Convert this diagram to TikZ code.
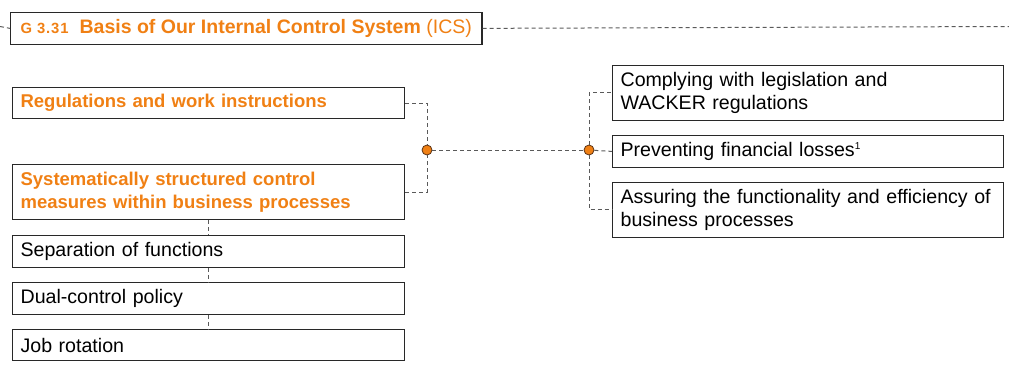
\documentclass[tikz,border=0pt]{standalone}
\usepackage{fontspec}
\setmainfont{Liberation Sans}
\usetikzlibrary{positioning}
\definecolor{icsorange}{RGB}{240,128,20}
\definecolor{boxline}{RGB}{40,40,40}
\definecolor{dashclr}{RGB}{90,90,90}
\definecolor{dotline}{RGB}{90,50,20}
\tikzset{
  % boxes
  ctrlbox/.style  = {draw=boxline, line width=0.6pt, anchor=north west,
                     minimum width=196pt, text width=188pt, inner xsep=4pt,
                     align=left, font=\fontsize{9.8}{11.5}\selectfont},
  headbox/.style  = {ctrlbox, text=icsorange, font=\fontsize{9.25}{11.5}\selectfont\bfseries},
  goalbox/.style  = {ctrlbox, minimum width=195.5pt, text width=187.5pt},
  titlebox/.style = {draw=boxline, line width=0.6pt, anchor=north west,
                     minimum width=234pt, minimum height=14.5pt, inner xsep=5pt,
                     text=icsorange, align=left},
  % connectors
  conn/.style     = {draw=dashclr, line width=0.5pt, dash pattern=on 2pt off 1.5pt},
  dotpt/.style    = {circle, fill=icsorange, draw=dotline, line width=0.4pt,
                     inner sep=0pt, minimum size=5pt},
}
\begin{document}
\begin{tikzpicture}[x=0.5pt, y=-0.5pt]
  \useasboundingbox (0,0) rectangle (1009,376);
  % Title
  \node[titlebox] (title) at (10,12)
    {{\fontsize{7.4}{8}\selectfont\bfseries\addfontfeature{LetterSpace=6}G 3.31}\hspace{5.5pt}{\fontsize{9.75}{12}\selectfont\bfseries Basis of Our Internal Control System} {\fontsize{9.75}{12}\selectfont(ICS)}};
  \coordinate (titleL) at (0,26.5);
  \coordinate (titleR) at (1009,26.5);
  \draw[conn] (titleL) -- (title.west);
  \draw[conn] (title.east) -- (titleR);
  % Left column
  \node[headbox, minimum height=15.5pt] (regbox) at (12,87) {Regulations and work instructions};
  \node[headbox, minimum height=27.5pt] (sysbox) at (12,164) {Systematically structured control\\measures within business processes};
  \node[ctrlbox, minimum height=15.5pt] (sepbox) at (12,235) {Separation of functions};
  \node[ctrlbox, minimum height=15.5pt] (dualbox) at (12,282) {Dual-control policy};
  \node[ctrlbox, minimum height=15.5pt] (jobbox) at (12,329) {Job rotation};
  % Right column
  \node[goalbox, minimum height=27pt] (legbox) at (612,65) {Complying with legislation and\\WACKER regulations};
  \node[goalbox, minimum height=15pt] (lossbox) at (612,135) {Preventing financial losses\textsuperscript{\fontsize{5}{6}\selectfont 1}};
  \node[goalbox, minimum height=27pt] (procbox) at (612,182) {Assuring the functionality and efficiency of\\business processes};
  % Junction points
  \node[dotpt] (dotL) at (427,150) {};
  \node[dotpt] (dotR) at (589,150) {};
  % Connectors
  \draw[conn] (sysbox.south) -- (sepbox.north);
  \draw[conn] (sepbox.south) -- (dualbox.north);
  \draw[conn] (dualbox.south) -- (jobbox.north);
  \draw[conn] (regbox.east) -| (dotL);
  \draw[conn] (sysbox.east) -| (dotL);
  \draw[conn] (dotL) -- (dotR);
  \draw[conn] (dotR) |- (legbox.west);
  \draw[conn] (dotR) -- (lossbox.west);
  \draw[conn] (dotR) |- (procbox.west);
\end{tikzpicture}
\end{document}
